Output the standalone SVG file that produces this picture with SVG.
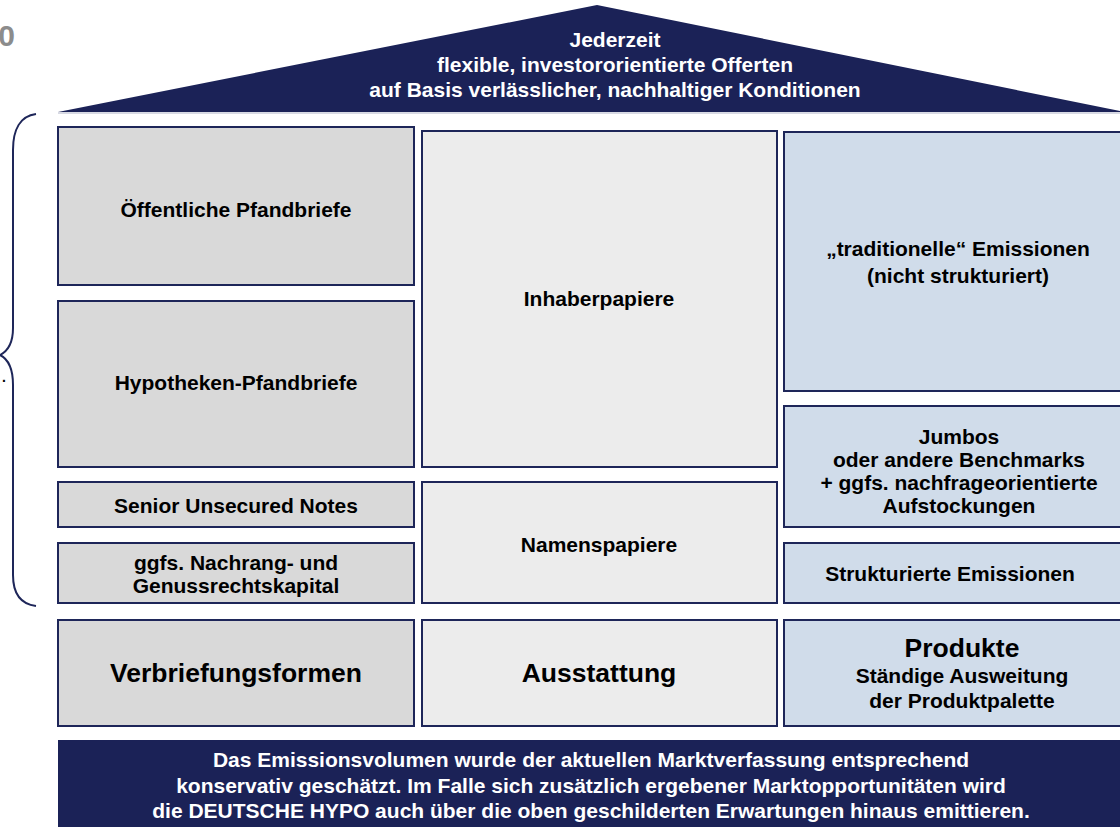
<svg xmlns="http://www.w3.org/2000/svg" width="1120" height="827" viewBox="0 0 1120 827">
<style>
text{font-family:"Liberation Sans",Arial,sans-serif;font-weight:bold;text-anchor:middle}
.w{fill:#ffffff;font-size:21px}
.t{fill:#000000;font-size:21px}
.big{fill:#000000;font-size:26.5px}
.bl{fill:#d9d9d9;stroke:#1e2659;stroke-width:2}
.bm{fill:#ececec;stroke:#1e2659;stroke-width:2}
.br{fill:#d0dcea;stroke:#1e2659;stroke-width:2}
.nav{fill:#1b2257}
</style>
<rect width="1120" height="827" fill="#ffffff"/>
<text x="15" y="46" style="font-size:30px;fill:#8c8c8c;text-anchor:end">0</text>
<text x="4" y="382" style="font-size:14px;fill:#000">.</text>
<g id="brace">
<path d="M36,114 C20,116 13,130 13,150 L13,328 C13,345 6,352 0,355 C6,358 13,366 13,385 L13,575 C13,592 20,604 36,606" fill="none" stroke="#1e2659" stroke-width="2"/>
</g>
<g id="roof">
<polygon class="nav" points="58,112 597,5 1125,112"/>
<line x1="58" y1="113" x2="1120" y2="113" stroke="#b0b4c8" stroke-width="1"/>
<text class="w" x="615" y="47">Jederzeit</text>
<text class="w" x="615" y="72">flexible, investororientierte Offerten</text>
<text class="w" x="615" y="97">auf Basis verlässlicher, nachhaltiger Konditionen</text>
</g>
<g id="oeffentliche">
<rect class="bl" x="58" y="127" width="356" height="158"/>
<text class="t" x="236" y="217">Öffentliche Pfandbriefe</text>
</g>
<g id="hypotheken">
<rect class="bl" x="58" y="301" width="356" height="166"/>
<text class="t" x="236" y="390">Hypotheken-Pfandbriefe</text>
</g>
<g id="senior">
<rect class="bl" x="58" y="482" width="356" height="45"/>
<text class="t" x="236" y="513">Senior Unsecured Notes</text>
</g>
<g id="nachrang">
<rect class="bl" x="58" y="543" width="356" height="60"/>
<text class="t" x="236" y="570">ggfs. Nachrang- und</text>
<text class="t" x="236" y="593">Genussrechtskapital</text>
</g>
<g id="inhaber">
<rect class="bm" x="422" y="131" width="355" height="336"/>
<text class="t" x="599" y="306">Inhaberpapiere</text>
</g>
<g id="namen">
<rect class="bm" x="422" y="482" width="355" height="121"/>
<text class="t" x="599" y="552">Namenspapiere</text>
</g>
<g id="traditionelle">
<rect class="br" x="784" y="132" width="345" height="259"/>
<text class="t" x="958" y="256">„traditionelle“ Emissionen</text>
<text class="t" x="958" y="283">(nicht strukturiert)</text>
</g>
<g id="jumbos">
<rect class="br" x="784" y="406" width="345" height="121"/>
<text class="t" x="959" y="444">Jumbos</text>
<text class="t" x="959" y="467">oder andere Benchmarks</text>
<text class="t" x="959" y="490">+ ggfs. nachfrageorientierte</text>
<text class="t" x="959" y="513">Aufstockungen</text>
</g>
<g id="strukturierte">
<rect class="br" x="784" y="543" width="345" height="60"/>
<text class="t" x="950" y="581">Strukturierte Emissionen</text>
</g>
<g id="verbriefung">
<rect class="bl" x="58" y="620" width="356" height="106"/>
<text class="big" x="236" y="682">Verbriefungsformen</text>
</g>
<g id="ausstattung">
<rect class="bm" x="422" y="620" width="355" height="106"/>
<text class="big" x="599" y="682">Ausstattung</text>
</g>
<g id="produkte">
<rect class="br" x="784" y="620" width="345" height="106"/>
<text class="big" x="962" y="657">Produkte</text>
<text class="t" x="962" y="683">Ständige Ausweitung</text>
<text class="t" x="962" y="708">der Produktpalette</text>
</g>
<g id="footer">
<rect class="nav" x="58" y="740" width="1070" height="90"/>
<text class="w" x="591" y="767">Das Emissionsvolumen wurde der aktuellen Marktverfassung entsprechend</text>
<text class="w" x="591" y="793">konservativ geschätzt. Im Falle sich zusätzlich ergebener Marktopportunitäten wird</text>
<text class="w" x="591" y="818">die DEUTSCHE HYPO auch über die oben geschilderten Erwartungen hinaus emittieren.</text>
</g>
<g id="connectors"></g>
</svg>
